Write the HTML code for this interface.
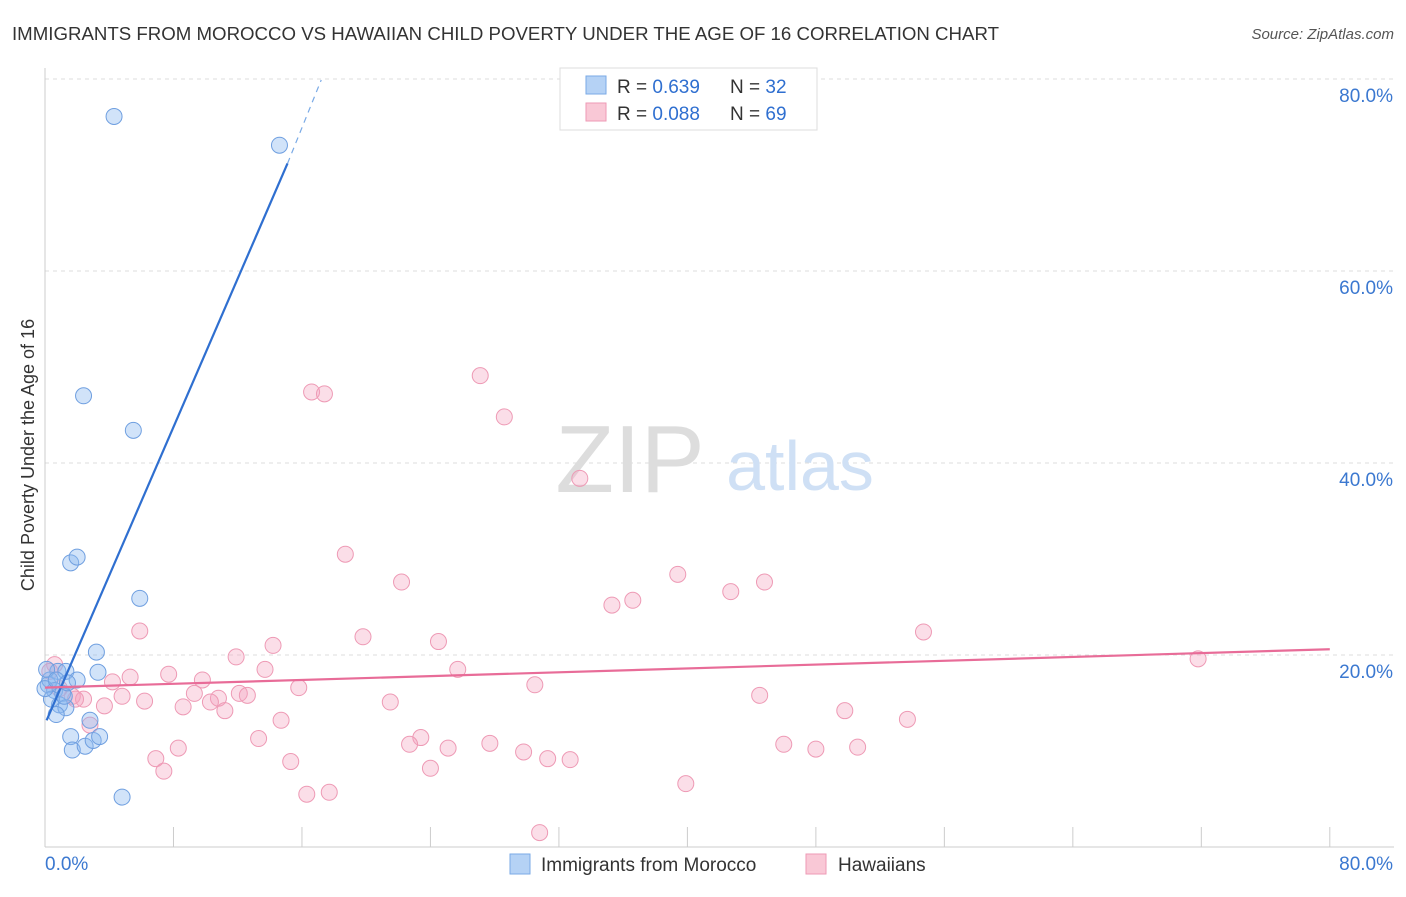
<!DOCTYPE html>
<html><head><meta charset="utf-8"><style>
body{margin:0;background:#fff;font-family:"Liberation Sans",sans-serif}
svg text{font-family:"Liberation Sans",sans-serif}
</style></head><body>
<svg width="1406" height="892">
<text x="12" y="40" font-size="18" fill="#333" textLength="987" lengthAdjust="spacingAndGlyphs">IMMIGRANTS FROM MOROCCO VS HAWAIIAN CHILD POVERTY UNDER THE AGE OF 16 CORRELATION CHART</text>
<text x="1394" y="39" font-size="15" fill="#555" font-style="italic" text-anchor="end">Source: ZipAtlas.com</text>
<g id="grid"></g>
<text x="630" y="492" font-size="96" fill="#ddd" font-family="Liberation Serif" text-anchor="middle">ZIP</text>
<text x="800" y="490" font-size="70" fill="#cfe0f5" text-anchor="middle">atlas</text>
<text transform="translate(34,455) rotate(-90)" font-size="18" fill="#333" text-anchor="middle">Child Poverty Under the Age of 16</text>
<g id="pts"></g>
<g id="lines"></g>
<g>
<rect x="560" y="68" width="257" height="62" fill="#fff" stroke="#ddd"/>
<rect x="586" y="76" width="20" height="18" fill="#b5d2f5" stroke="#7aaae6"/>
<rect x="586" y="103" width="20" height="18" fill="#f9c8d6" stroke="#ee9ab5"/>
<text x="617" y="93" font-size="19" fill="#333">R = <tspan fill="#2f6fd0">0.639</tspan></text>
<text x="730" y="93" font-size="19" fill="#333">N = <tspan fill="#2f6fd0">32</tspan></text>
<text x="617" y="120" font-size="19" fill="#333">R = <tspan fill="#2f6fd0">0.088</tspan></text>
<text x="730" y="120" font-size="19" fill="#333">N = <tspan fill="#2f6fd0">69</tspan></text>
</g>
<g>
<rect x="510" y="854" width="20" height="20" fill="#b5d2f5" stroke="#7aaae6"/>
<text x="541" y="871" font-size="19" fill="#333">Immigrants from Morocco</text>
<rect x="806" y="854" width="20" height="20" fill="#f9c8d6" stroke="#ee9ab5"/>
<text x="838" y="871" font-size="19" fill="#333">Hawaiians</text>
</g>
</svg>
<script>
const yTicks=[20,40,60,80];
const xTickLabels=["0.0%","80.0%"];
const blueX=[4.3,14.6,2.4,5.5,1.6,2.0,5.9,3.2,3.3,0.8,1.3,0.2,0.3,0.6,1.1,0.9,1.3,0.7,2.0,2.8,1.6,1.7,2.5,3.0,3.4,4.8,0.1,0.4,1.2,0.0,0.7,1.4];
const blueY=[76.1,73.1,47.0,43.4,29.6,30.2,25.9,20.3,18.2,18.3,18.3,16.9,17.4,16.3,16.0,14.8,14.5,13.8,17.4,13.2,11.5,10.1,10.5,11.1,11.5,5.2,18.5,15.4,15.7,16.5,17.4,17.1];
const pinkX=[27.1,16.6,17.4,28.6,33.3,18.7,22.2,39.4,44.8,42.7,36.6,35.3,5.9,19.8,24.5,14.2,11.9,54.7,71.8,25.7,13.7,7.7,5.3,4.2,9.8,30.5,15.8,9.3,12.1,12.6,10.8,4.8,6.2,10.3,1.7,2.4,21.5,44.5,8.6,11.2,3.7,49.8,53.7,14.7,2.8,13.3,23.4,22.7,27.7,25.1,46.0,8.3,29.8,31.3,32.7,6.9,48.0,50.6,15.3,24.0,7.4,16.3,17.7,39.9,30.8,0.6,0.3,0.9,1.9];
const pinkY=[49.1,47.4,47.2,44.8,38.4,30.5,27.6,28.4,27.6,26.6,25.7,25.2,22.5,21.9,21.4,21.0,19.8,22.4,19.6,18.5,18.5,18.0,17.7,17.2,17.4,16.9,16.6,16.0,16.0,15.8,15.5,15.7,15.2,15.1,15.7,15.4,15.1,15.8,14.6,14.2,14.7,14.2,13.3,13.2,12.7,11.3,11.4,10.7,10.8,10.3,10.7,10.3,9.9,9.2,9.1,9.2,10.2,10.4,8.9,8.2,7.9,5.5,5.7,6.6,1.5,19.0,18.3,16.5,15.4];
const blueFit=[[0.1,13.2],[15.1,71.2],[17.2,79.9]];
const pinkFit=[[0,16.6],[80,20.6]];
const X=v=>45+v*16.06, Y=v=>847-v*9.6;
const NS="http://www.w3.org/2000/svg";
function mk(t,a,p){const e=document.createElementNS(NS,t);for(const k in a)e.setAttribute(k,a[k]);p.appendChild(e);return e;}
const g=document.getElementById('grid');
yTicks.forEach(v=>{const l=mk('line',{x1:45,x2:1394,y1:Y(v),y2:Y(v),stroke:'#ddd','stroke-dasharray':'4,4'},g);


const t=mk('text',{x:1393,y:Y(v)+23,'font-size':19,fill:'#3b78d0','text-anchor':'end'},g);t.textContent=v.toFixed(1)+'%';

});
const ax=mk('line',{x1:45,x2:1394,y1:847,y2:847,stroke:'#ccc'},g);


const ay=mk('line',{x1:45,x2:45,y1:68,y2:847,stroke:'#ccc'},g);


for(let i=1;i<=10;i++){const tk=mk('line',{x1:X(i*8),x2:X(i*8),y1:827,y2:847,stroke:'#ccc'},g);

}
[[0,'start'],[80,'end']].forEach((d,i)=>{const t=mk('text',{x:i?1393:45,y:870,'font-size':19,fill:'#3b78d0','text-anchor':d[1]},g);t.textContent=xTickLabels[i];

});
const p=document.getElementById('pts');
pinkX.forEach((x,i)=>{const c=mk('circle',{cx:X(x),cy:Y(pinkY[i]),r:8,fill:'rgba(244,160,190,0.35)',stroke:'#ee9ab5','stroke-width':1},p);

});
blueX.forEach((x,i)=>{const c=mk('circle',{cx:X(x),cy:Y(blueY[i]),r:8,fill:'rgba(140,185,240,0.4)',stroke:'#6f9fe0','stroke-width':1},p);

});
const L=document.getElementById('lines');
const b1=mk('line',{x1:X(blueFit[0][0]),y1:Y(blueFit[0][1]),x2:X(blueFit[1][0]),y2:Y(blueFit[1][1]),stroke:'#2f6fd0','stroke-width':2.2},L);


const b2=mk('line',{x1:X(blueFit[1][0]),y1:Y(blueFit[1][1]),x2:X(blueFit[2][0]),y2:Y(blueFit[2][1]),stroke:'#7aaae6','stroke-width':1.2,'stroke-dasharray':'6,5'},L);


const pl=mk('line',{x1:X(pinkFit[0][0]),y1:Y(pinkFit[0][1]),x2:X(pinkFit[1][0]),y2:Y(pinkFit[1][1]),stroke:'#e86c98','stroke-width':2.2},L);


</script>
</body></html>
